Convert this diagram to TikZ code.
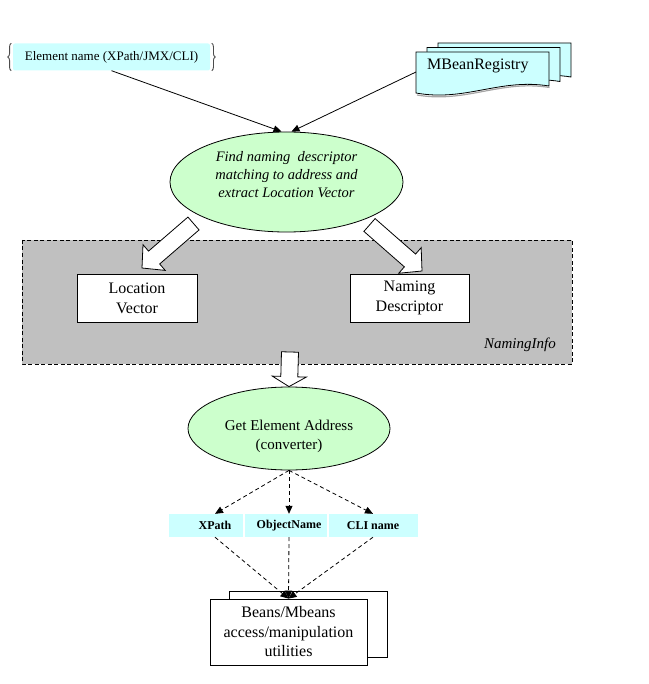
\documentclass[tikz,border=0pt]{standalone}
\usepackage{fontspec}
\setmainfont{Liberation Serif}
\usetikzlibrary{shapes.geometric,arrows.meta,calc,decorations.pathreplacing}

\definecolor{paleCyan}{HTML}{CCFFFF}
\definecolor{paleGreen}{HTML}{CCFFCC}
\definecolor{panelGray}{HTML}{C0C0C0}

\tikzset{
  outline/.style={draw=black, line width=0.8pt},
  whitebox/.style={outline, fill=white, inner sep=0pt},
  oval/.style={ellipse, outline, fill=paleGreen, inner sep=0pt},
  docbox/.style={outline, fill=paleCyan, line join=miter},
  solidlink/.style={line width=0.8pt, -{Triangle[length=8pt,width=7pt]}},
  dashlink/.style={line width=0.8pt, dash pattern=on 4pt off 3pt,
    -{Triangle[length=8pt,width=7pt]}},
  blockarrow/.style={outline, fill=white, line join=miter},
  cellfill/.style={fill=paleCyan},
  celltext/.style={inner sep=0pt, minimum height=23pt,
    font=\fontsize{12}{14}\selectfont\bfseries},
  brace/.style={decorate, decoration={brace, amplitude=3.5pt},
    draw=black!70, line width=0.9pt}
}

% hollow block arrow from tail #1 to tip #2, head length #3
\newcommand\blkarrow[3]{%
  \coordinate (hb) at ($(#2)!#3!(#1)$);
  \draw[blockarrow]
    ($(#1)!8.5pt!90:(#2)$) -- ($(hb)!8.5pt!90:(#2)$) --
    ($(hb)!17pt!90:(#2)$) -- (#2) -- ($(hb)!17pt!-90:(#2)$) --
    ($(hb)!8.5pt!-90:(#2)$) -- ($(#1)!8.5pt!-90:(#2)$) -- cycle;
}

% one sheet of the stacked document symbol, top-left corner at (#1,#2)
\newcommand\docsheet[2]{%
  \draw[docbox] (#1,#2) -- ++(133,0) -- ++(0,34)
    .. controls +(-49,-8) and +(49,9) .. (#1,#2+41) -- cycle;
}

\begin{document}
\begin{tikzpicture}[x=1pt, y=-1pt]
\useasboundingbox (0,0) rectangle (648,684);

% ---- inputs -------------------------------------------------------
\node[fill=paleCyan, rounded corners=2pt, minimum width=197pt,
      minimum height=27pt, inner sep=0pt,
      font=\fontsize{13}{15}\selectfont] (elem) at (111.5,57)
      {Element name (XPath/JMX/CLI)};
\draw[brace] ($(elem.south west)+(-1.5,0)$) -- ($(elem.north west)+(-1.5,0)$);
\draw[brace] ($(elem.north east)+(1.5,0)$) -- ($(elem.south east)+(1.5,0)$);

% stacked registry documents
\docsheet{438}{43}
\docsheet{427}{47.5}
\draw[black!35, line width=1.2pt]
  (549.5,87.5) .. controls (500.5,79.5) and (465.5,103.5) .. (417,95);
\docsheet{416}{52}
\node[anchor=west, inner sep=0pt, font=\fontsize{16}{19}\selectfont]
  (mbean) at (427,66) {MBeanRegistry};
\coordinate (mbeanleft) at (416,72);

% ---- lookup step --------------------------------------------------
\node[oval, minimum width=233pt, minimum height=100pt] (find) at (286.5,182) {};
\node[align=center, inner sep=0pt,
      font=\fontsize{14.5}{18}\selectfont\itshape] (findtxt) at (286.5,175)
  {Find naming\ \ descriptor\\matching to address and\\extract Location Vector};

\draw[solidlink] (elem.south) -- ($(find.north)+(-5,0)$);
\draw[solidlink] (mbeanleft) -- ($(find.north)+(5,0)$);

% ---- NamingInfo panel ---------------------------------------------
\path[fill=panelGray] (22,240) rectangle (572,364);
\draw[line width=0.8pt, dash pattern=on 4pt off 2.5pt] (22,240) rectangle (572,364);
\node[anchor=east, inner sep=0pt, font=\fontsize{15}{17}\selectfont\itshape]
  (naminginfo) at (556,345) {NamingInfo};

\node[whitebox, minimum width=120pt, minimum height=48pt, align=center,
      font=\fontsize{16}{20}\selectfont] (locvec) at (137,298)
  {Location\\Vector};
\node[whitebox, minimum width=119pt, minimum height=48pt, align=center,
      font=\fontsize{16}{20}\selectfont] (namdesc) at (409.5,298)
  {Naming\\Descriptor};

\coordinate (lvtail) at (193.5,223.5);
\coordinate (lvtip) at (142,268);
\coordinate (ndtail) at (369.5,225);
\coordinate (ndtip) at (422,271);
\blkarrow{lvtail}{lvtip}{16pt}
\blkarrow{ndtail}{ndtip}{16pt}

% ---- converter ----------------------------------------------------
\node[oval, minimum width=202pt, minimum height=83pt] (conv) at (289,428.5) {};
\node[align=center, inner sep=0pt, font=\fontsize{15}{19}\selectfont]
  (convtxt) at (289,436.5) {Get Element Address\\(converter)};

\coordinate (downtail) at (290,352);
\blkarrow{downtail}{conv.north}{10pt}

% ---- address forms ------------------------------------------------
\path[cellfill] (169,514) rectangle (243,537);
\path[cellfill] (245,514) rectangle (327,537);
\path[cellfill] (329,514) rectangle (418,537);
\node[celltext] (xp)  at (215,525.5) {XPath};
\node[celltext] (obj) at (289,525.5) {ObjectName};
\node[celltext] (cli) at (373,525.5) {CLI name};

\draw[dashlink] (conv.south) -- (xp.north);
\draw[dashlink] (conv.south) -- (obj.north);
\draw[dashlink] (conv.south) -- (cli.north);

% ---- utilities ----------------------------------------------------
\node[whitebox, minimum width=158pt, minimum height=66pt] (beansback) at (308,624) {};
\node[whitebox, minimum width=157pt, minimum height=66pt, align=center,
      font=\fontsize{16}{19.5}\selectfont] (beans) at (288.5,632)
  {Beans/Mbeans\\access/manipulation\\utilities};

\draw[dashlink] (xp.south) -- (beans.north);
\draw[dashlink] (obj.south) -- (beans.north);
\draw[dashlink] (cli.south) -- (beans.north);
\end{tikzpicture}
\end{document}
